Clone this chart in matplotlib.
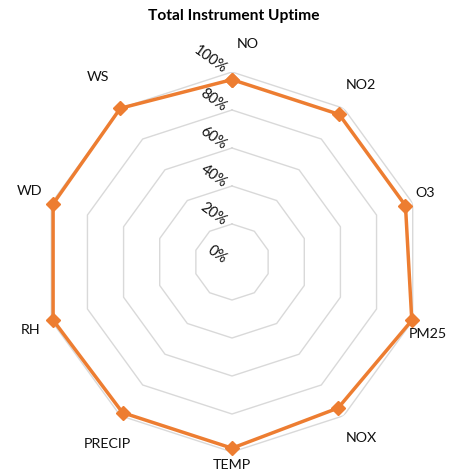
import numpy as np
import matplotlib
matplotlib.use("Agg")
import matplotlib.pyplot as plt
from matplotlib.transforms import offset_copy

categories = ["NO", "NO2", "O3", "PM25", "NOX", "TEMP", "PRECIP", "RH", "WD", "WS"]
uptime = [0.96, 0.96, 0.96, 0.995, 0.95, 0.98, 0.98, 0.99, 0.99, 1.00]
levels = [0.0, 0.2, 0.4, 0.6, 0.8, 1.0]
level_labels = ["0%", "20%", "40%", "60%", "80%", "100%"]
title = "Total Instrument Uptime"

# label offsets (pixels) from outer vertex
label_offsets = [(16, 28), (17, 23), (12, 10), (15, -13), (18, -22),
                 (0, -13), (-13, -28), (-21, -9), (-22, 12), (-22, 31)]

plt.rcParams['font.family'] = ['Lato', 'DejaVu Sans']

W, H = 453, 472
fig = plt.figure(figsize=(W / 100, H / 100), dpi=100)
cx, cy, R = 232, 262, 190
ax = fig.add_axes([(cx - R) / W, (H - cy - R) / H, 2 * R / W, 2 * R / H], polar=True)
ax.set_theta_zero_location("N")
ax.set_theta_direction(-1)
ax.set_ylim(0, 1)
ax.axis("off")

n = len(categories)
angles = np.linspace(0, 2 * np.pi, n, endpoint=False)
closed = np.concatenate([angles, angles[:1]])

# polygon gridlines
for lv in levels[1:]:
    ax.plot(closed, [lv] * (n + 1), color="#d9d9d9", lw=1.0, zorder=1)

vals = uptime + uptime[:1]
ax.plot(closed, vals, color="#ED7D31", lw=2.5, marker="D", markersize=7,
        zorder=3, clip_on=False)

for a, lab, (dx, dy) in zip(angles, categories, label_offsets):
    tr = offset_copy(ax.transData, fig=fig, x=dx, y=dy, units="dots")
    ax.text(a, 1.0, lab, transform=tr, ha="center", va="center",
            fontsize=10.3, color="#111111")

for lv, lab in zip(levels, level_labels):
    tr = offset_copy(ax.transData, fig=fig, x=-7, y=1, units="dots")
    ax.text(0, lv, lab, transform=tr, ha="right", va="center", rotation=-36,
            rotation_mode="anchor", fontsize=10.5, color="#111111")

fig.text(0.515, 1 - 16 / H, title, ha="center", va="center",
         fontsize=11.2, fontweight="bold", color="#000000")

fig.savefig("out.png", dpi=100, facecolor="white")
